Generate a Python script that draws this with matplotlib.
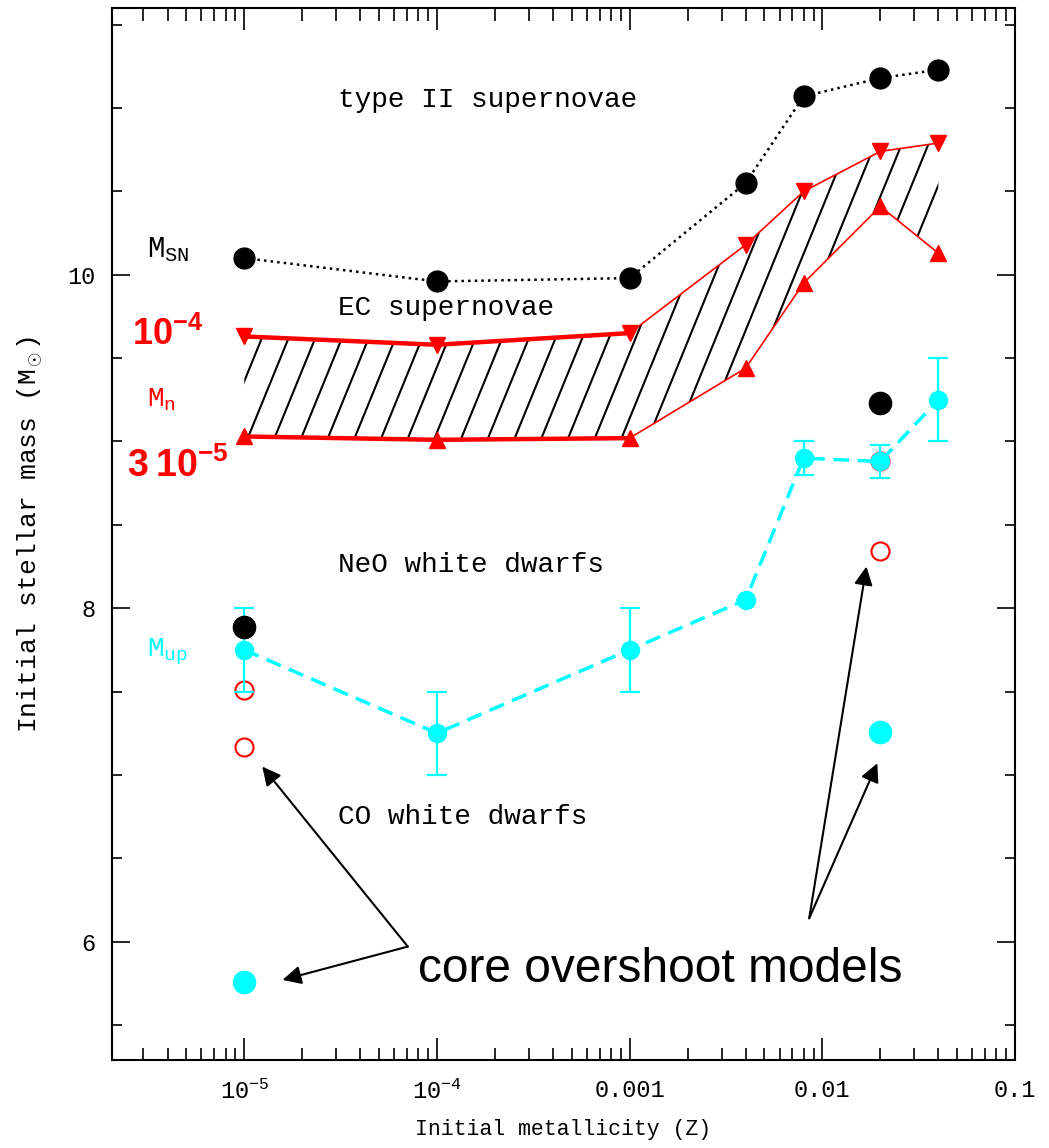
import numpy as np
import matplotlib
matplotlib.use("Agg")
import matplotlib.pyplot as plt
from matplotlib.collections import LineCollection
from matplotlib.ticker import MultipleLocator, LogLocator, NullFormatter

plt.rcParams['font.family'] = ['Liberation Mono', 'DejaVu Sans']
plt.rcParams['mathtext.fontset'] = 'custom'
plt.rcParams['mathtext.rm'] = 'Liberation Mono'
plt.rcParams['mathtext.it'] = 'Liberation Mono'
plt.rcParams['mathtext.bf'] = 'Liberation Sans:bold'

# metallicity grid and transition masses
z = [1e-5, 1e-4, 1e-3, 4e-3, 8e-3, 0.02, 0.04]
m_sn = [10.10, 9.96, 9.98, 10.55, 11.07, 11.18, 11.23]
m_n_hi = [9.63, 9.58, 9.65, 10.18, 10.50, 10.74, 10.79]
m_n_lo = [9.03, 9.01, 9.02, 9.44, 9.95, 10.41, 10.13]
m_up = [7.75, 7.25, 7.75, 8.05, 8.90, 8.88, 9.25]
m_up_err = [0.25, 0.25, 0.25, 0.0, 0.1, 0.1, 0.25]

# core overshoot models
ov_black_z = [1e-5, 0.02]
ov_black_m = [7.89, 9.23]
ov_red_z = [1e-5, 1e-5, 0.02, 0.02]
ov_red_m = [7.51, 7.17, 8.88, 8.34]
ov_cyan_z = [1e-5, 0.02]
ov_cyan_m = [5.76, 7.26]

xticks = [1e-5, 1e-4, 1e-3, 1e-2, 0.1]
xticklabels = [r'$10^{-5}$', r'$10^{-4}$', '0.001', '0.01', '0.1']
yticks = [6, 8, 10]

# annotation arrows: tail -> tip
arrow_tails = [(7.06e-5, 5.97), (7.06e-5, 5.97), (8.55e-3, 6.14), (8.55e-3, 6.14)]
arrow_tips = [(1.24e-5, 7.05), (1.58e-5, 5.77), (0.01694, 8.25), (0.0193, 7.07)]

fig = plt.figure(figsize=(10.49, 11.48), dpi=100)
ax = fig.add_axes([0.1068, 0.0767, 0.8608, 0.9163])
ax.set_xscale('log')
ax.set_xlim(2.06e-6, 0.1)
ax.set_ylim(5.29, 11.6)

# hatched EC supernova band
poly = ax.fill_between(z, m_n_lo, m_n_hi, facecolor='none', edgecolor='none', zorder=1)
slope = 2.45 * 1049 / 1148
step = 26.7 / 1049
segs = [[(c, 0.0), (c + 1.0 / slope, 1.0)] for c in np.arange(-0.6, 1.1, step)]
lc = LineCollection(segs, colors='k', linewidths=1.5, transform=fig.transFigure, zorder=1)
ax.add_collection(lc, autolim=False)
lc.set_clip_path(poly.get_paths()[0], ax.transData)

# M_n boundaries: thick at low Z, thin after
ax.plot(z[:3], m_n_hi[:3], color='red', lw=3.2, zorder=3)
ax.plot(z[2:], m_n_hi[2:], color='red', lw=1.2, zorder=3)
ax.plot(z[:3], m_n_lo[:3], color='red', lw=3.2, zorder=3)
ax.plot(z[2:], m_n_lo[2:], color='red', lw=1.2, zorder=3)
ax.plot(z, m_n_hi, 'v', color='red', ms=12, zorder=4)
ax.plot(z, m_n_lo, '^', color='red', ms=12, zorder=4)

# M_SN
ax.plot(z, m_sn, ':', color='k', lw=1.8, marker='o', ms=15, zorder=4)

# overshoot models (red open, black)
ax.plot(ov_red_z, ov_red_m, 'o', mfc='none', mec='red', mew=1.5, ms=13, ls='none', zorder=4)
ax.plot(ov_black_z, ov_black_m, 'o', color='k', ms=16, ls='none', zorder=6)

# M_up
ax.errorbar(z, m_up, yerr=m_up_err, color='cyan', ecolor='cyan', elinewidth=1.6,
            capsize=7, capthick=1.6, ls='none', zorder=5)
ax.plot(z, m_up, color='cyan', lw=2.5, dashes=(4.5, 2.5), marker='o', ms=13, zorder=5)
ax.plot(ov_cyan_z, ov_cyan_m, 'o', color='cyan', ms=16, ls='none', zorder=5)

# region labels
lab_x = 3.05e-5
ax.text(lab_x, 11.05, 'type II supernovae', fontsize=20, va='center')
ax.text(lab_x, 9.80, 'EC supernovae', fontsize=20, va='center')
ax.text(lab_x, 8.26, 'NeO white dwarfs', fontsize=20, va='center')
ax.text(lab_x, 6.75, 'CO white dwarfs', fontsize=20, va='center')

ax.text(3.13e-6, 10.15, r'$\mathrm{M_{SN}}$', fontsize=21, va='center')
ax.text(3.13e-6, 9.25, r'$\mathrm{M_{n}}$', fontsize=20, va='center', color='red')
ax.text(3.13e-6, 7.74, r'$\mathrm{M_{up}}$', fontsize=20, va='center', color='cyan')
ax.text(2.61e-6, 9.64, r'$\mathbf{10^{-4}}$', fontsize=26, va='center', color='red')
ax.text(2.46e-6, 8.85, r'$\mathbf{3\ 10^{-5}}$', fontsize=27, va='center', color='red')

ax.text(7.96e-5, 5.83, 'core overshoot models', fontsize=34.5, va='center',
        family='Liberation Sans')
for tail, tip in zip(arrow_tails, arrow_tips):
    ax.annotate('', xy=tip, xytext=tail,
                arrowprops=dict(arrowstyle='-|>', color='k', lw=1.5,
                                mutation_scale=28, shrinkA=0, shrinkB=0), zorder=7)

# axes styling
ax.set_xticks(xticks)
ax.set_xticklabels(xticklabels)
ax.xaxis.set_minor_locator(LogLocator(base=10, subs=np.arange(2, 10)))
ax.xaxis.set_minor_formatter(NullFormatter())
ax.set_yticks(yticks)
ax.set_yticklabels([str(t) for t in yticks])
ax.yaxis.set_minor_locator(MultipleLocator(0.5))

ax.tick_params(which='both', direction='in', top=True, right=True, width=1.2, labelsize=17)
ax.xaxis.set_tick_params(which='major', length=16, pad=14)
ax.xaxis.set_tick_params(which='minor', length=9)
ax.yaxis.set_tick_params(which='major', length=13, pad=12)
ax.yaxis.set_tick_params(which='minor', length=7)
for s in ax.spines.values():
    s.set_linewidth(1.5)

ax.set_xlabel('Initial metallicity (Z)', fontsize=15.5, labelpad=11)
ax.set_ylabel(r'Initial stellar mass (M$_\odot$)', fontsize=19, labelpad=16)

fig.savefig('out.png', dpi=100)
